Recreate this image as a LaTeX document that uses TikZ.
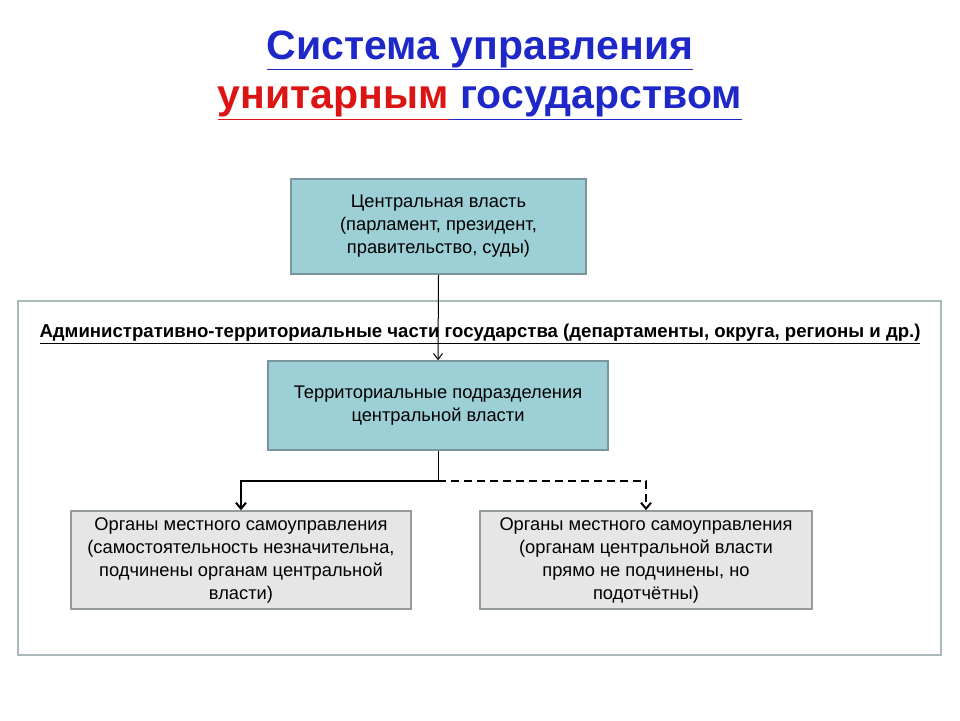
\documentclass[tikz,border=0pt]{standalone}
\usepackage{fontspec}
\setmainfont{Liberation Sans}
\usetikzlibrary{arrows.meta}
\definecolor{tblue}{RGB}{30,40,200}
\definecolor{tred}{RGB}{220,20,20}
\definecolor{teal1}{RGB}{157,208,214}
\definecolor{tealb}{RGB}{120,150,155}
\definecolor{grayf}{RGB}{230,230,230}
\definecolor{grayb}{RGB}{150,155,155}
\definecolor{frameb}{RGB}{170,185,185}
\begin{document}
\begin{tikzpicture}[x=1pt,y=-1pt,
  tbox/.style={draw=tealb,line width=1.5pt,fill=teal1,align=center,font=\fontsize{18.3}{23}\selectfont},
  gbox/.style={draw=grayb,line width=1.5pt,fill=grayf,align=center,font=\fontsize{18.3}{23}\selectfont},
  conn/.style={line width=1pt,-{Straight Barb[length=6pt,width=9pt]}},
  connb/.style={line width=2pt},
  ]
\useasboundingbox[fill=white] (0,0) rectangle (960,720);
\node[font=\bfseries\fontsize{41}{46}\selectfont,text=tblue] (t1) at (480,50) {\underline{Система управления}};
\node[font=\bfseries\fontsize{41}{46}\selectfont] (t2) at (480,103) {\textcolor{tred}{\underline{унитарным}}\textcolor{tblue}{\underline{ государством}}};
\draw[frameb,line width=2pt] (18,301) rectangle (941,655);
\node[font=\bfseries\fontsize{18.6}{22}\selectfont] (lab) at (480,334) {\underline{Административно-территориальные части государства (департаменты, округа, регионы и др.)}};
\node[tbox,minimum width=295pt,minimum height=95pt] (c) at (438.5,226.5) {Центральная власть\\(парламент, президент,\\правительство, суды)};
\node[tbox,minimum width=340pt,minimum height=89pt] (t) at (438,405.5) {Территориальные подразделения\\центральной власти};
\node[gbox,minimum width=340pt,minimum height=98pt] (l) at (241,560) {Органы местного самоуправления\\(самостоятельность незначительна,\\подчинены органам центральной\\власти)};
\node[gbox,minimum width=332pt,minimum height=98pt] (r) at (646,560) {Органы местного самоуправления\\(органам центральной власти\\прямо не подчинены, но\\подотчётны)};
\draw[conn] (c.south) -- (t.north);
\coordinate (j) at (438,481);
\draw[line width=1pt] (t.south) -- (j);
\draw[connb,-{Straight Barb[length=6pt,width=10pt]}] (j) -| (l.north);
\draw[connb,dash pattern=on 8pt off 5pt,-{Straight Barb[length=6pt,width=10pt]}] (j) -| (r.north);
\end{tikzpicture}
\end{document}
